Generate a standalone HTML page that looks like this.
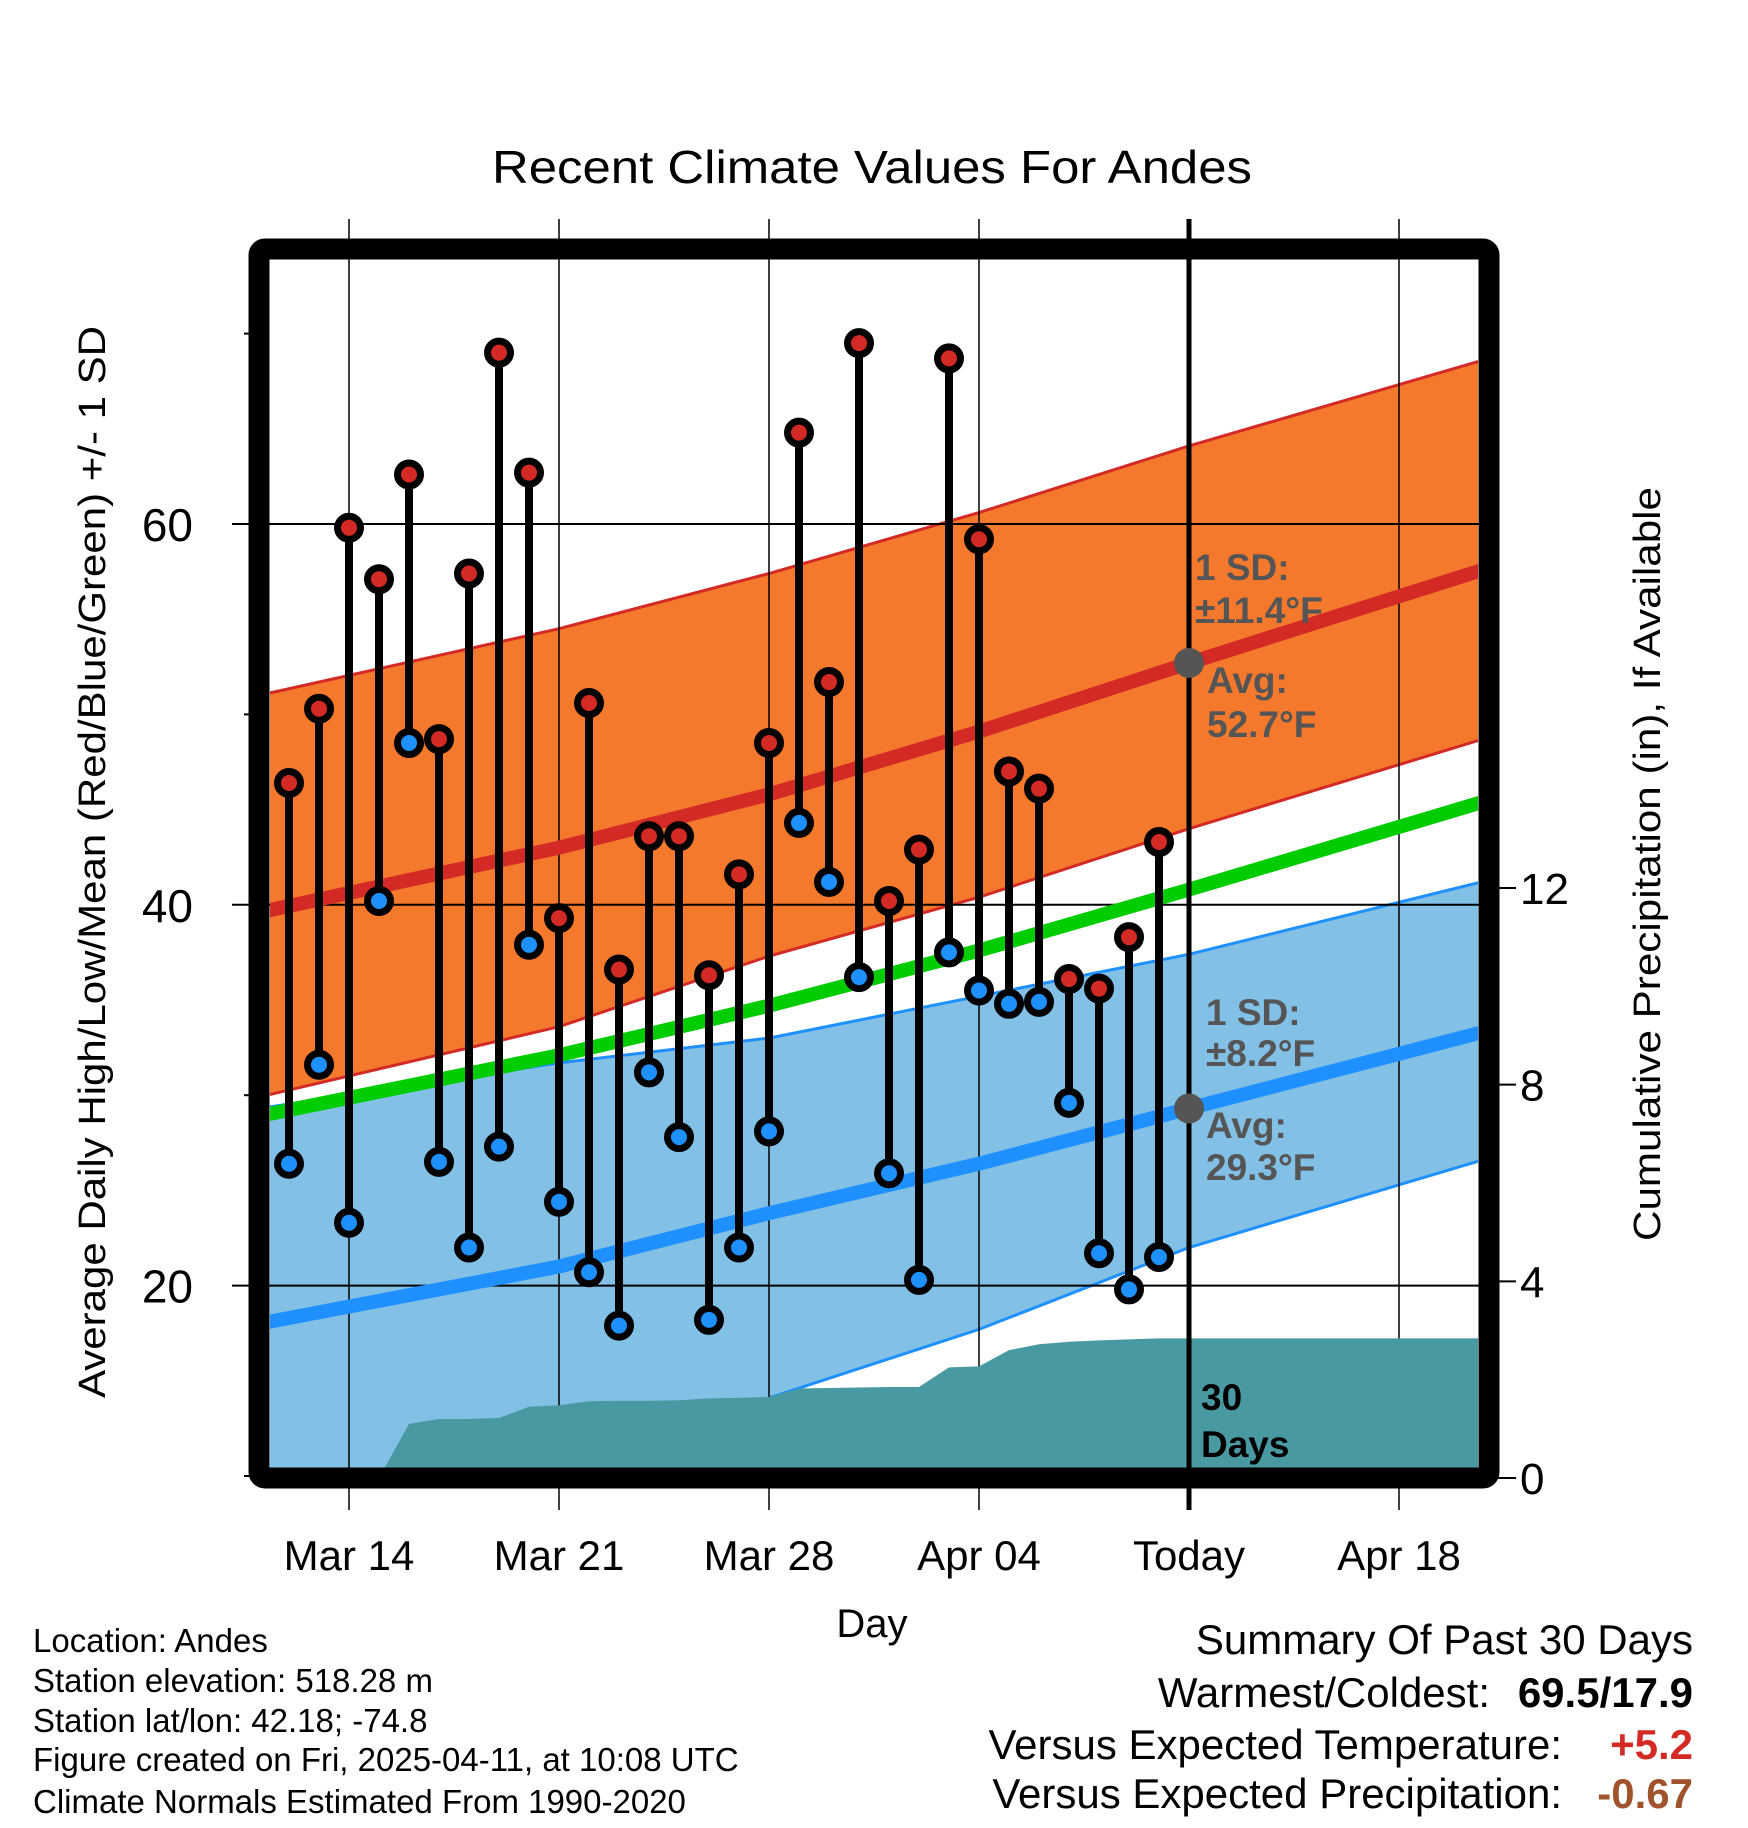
<!DOCTYPE html>
<html><head><meta charset="utf-8"><style>
html,body{margin:0;padding:0;background:#fff;}
svg{display:block;font-family:"Liberation Sans",sans-serif;}
</style></head><body>
<svg id="chart" width="1748" height="1828" viewBox="0 0 1748 1828" xmlns="http://www.w3.org/2000/svg">
<defs><clipPath id="plotclip"><rect x="270" y="259" width="1208" height="1209"/></clipPath></defs>
<rect width="1748" height="1828" fill="#fff"/>
<text x="872" y="183" font-size="46" text-anchor="middle" textLength="760" lengthAdjust="spacingAndGlyphs">Recent Climate Values For Andes</text>
<g id="bands" clip-path="url(#plotclip)"></g>
<g id="grid"></g>
<g id="precip" clip-path="url(#plotclip)"></g>
<g id="normals" clip-path="url(#plotclip)"></g>
<g id="obs" clip-path="url(#plotclip)"></g>
<g id="annot"></g>
<rect x="259" y="249" width="1230" height="1229" rx="6" fill="none" stroke="#000" stroke-width="21"/>
<g id="axes"></g>
<text transform="translate(105,862) rotate(-90)" font-size="38" text-anchor="middle" textLength="1072" lengthAdjust="spacingAndGlyphs">Average Daily High/Low/Mean (Red/Blue/Green) +/- 1 SD</text>
<text transform="translate(1660,864) rotate(-90)" font-size="38" text-anchor="middle" textLength="754" lengthAdjust="spacingAndGlyphs">Cumulative Precipitation (in), If Available</text>
<text x="872" y="1637" font-size="40" text-anchor="middle">Day</text>
<g font-size="33">
<text x="33" y="1652">Location: Andes</text>
<text x="33" y="1692">Station elevation: 518.28 m</text>
<text x="33" y="1732">Station lat/lon: 42.18; -74.8</text>
<text x="33" y="1771">Figure created on Fri, 2025-04-11, at 10:08 UTC</text>
<text x="33" y="1813">Climate Normals Estimated From 1990-2020</text>
</g>
<g font-size="42" text-anchor="end">
<text x="1693" y="1654">Summary Of Past 30 Days</text>
<text x="1490" y="1707">Warmest/Coldest:</text>
<text x="1693" y="1707" font-weight="bold">69.5/17.9</text>
<text x="1562" y="1759">Versus Expected Temperature:</text>
<text x="1693" y="1759" font-weight="bold" fill="#d42a25">+5.2</text>
<text x="1562" y="1808">Versus Expected Precipitation:</text>
<text x="1693" y="1808" font-weight="bold" fill="#a0522d">-0.67</text>
</g>
</svg>
<script>
// ---- data ----
const highs = [46.4,50.3,59.8,57.1,62.6,48.7,57.4,69.0,62.7,39.3,50.6,36.6,43.6,43.6,36.3,41.6,48.5,64.8,51.7,69.5,40.2,42.9,68.7,59.2,47.0,46.1,36.1,35.6,38.3,43.3];
const lows  = [26.4,31.6,23.3,40.2,48.5,26.5,22.0,27.3,37.9,24.4,20.7,17.9,31.2,27.8,18.2,22.0,28.1,44.3,41.2,36.2,25.9,20.3,37.5,35.5,34.8,34.9,29.6,21.7,19.8,21.5];
const normDays   = [0,10,17,24,31,41];
const avgHigh    = [39.6,43.0,45.8,49.1,52.7,57.7];
const highBandTop= [51.0,54.5,57.4,60.6,64.1,68.7];
const highBandBot= [29.9,33.6,37.3,40.4,44.0,48.8];
const avgMean    = [28.9,32.1,34.7,37.6,40.8,45.5];
const avgLow     = [18.0,21.0,23.8,26.4,29.3,33.4];
const lowBandTop = [29.3,31.7,33.0,35.2,37.4,41.3];
const lowBandBot = [8.5,10.2,14.1,17.7,22.0,26.7];
const precipCum  = [0,0,0,0,0,1.1,1.2,1.2,1.22,1.45,1.48,1.56,1.57,1.57,1.58,1.62,1.63,1.65,1.82,1.83,1.84,1.85,1.85,2.25,2.27,2.6,2.72,2.77,2.8,2.82,2.84,2.84,2.84,2.84,2.84,2.84,2.84,2.84,2.84,2.84,2.84,2.84];
const xTickDays   = [3,10,17,24,31,38];
const xTickLabels = ["Mar 14","Mar 21","Mar 28","Apr 04","Today","Apr 18"];
const yTicks  = [20,40,60];
const yMinor  = [10,30,50,70];
const y2Ticks = [0,4,8,12];
// ---- scales ----
const NS="http://www.w3.org/2000/svg";
const X = d => 259 + d*30;
const Y = t => 524 + (60-t)*19.04;
const Y2 = p => 1478 - p*49.17;
function mk(tag, attrs, parent){const e=document.createElementNS(NS,tag);for(const k in attrs)e.setAttribute(k,attrs[k]);parent.appendChild(e);return e;}
const bands=document.getElementById('bands'),grid=document.getElementById('grid'),precip=document.getElementById('precip'),
norm=document.getElementById('normals'),obs=document.getElementById('obs'),annot=document.getElementById('annot'),axes=document.getElementById('axes');
function pts(arr){return normDays.map((d,i)=>X(d)+','+Y(arr[i])).join(' ');}
function band(top,bot,fill,name){
  const p=normDays.map((d,i)=>X(d)+','+Y(top[i])).concat(normDays.slice().reverse().map((d,j)=>{const i=normDays.length-1-j;return X(d)+','+Y(bot[i]);}));
  const e=mk('polygon',{points:p.join(' '),fill:fill},bands);
  
  
}
band(lowBandTop,lowBandBot,'#82c0e6','low-sd-band');
band(highBandTop,highBandBot,'#f4792d','high-sd-band');
[[lowBandTop,'#1e90ff'],[lowBandBot,'#1e90ff'],[highBandTop,'#d42a25'],[highBandBot,'#d42a25']].forEach(([a,c])=>{
  const e=mk('polyline',{points:pts(a),fill:'none',stroke:c,'stroke-width':3},bands);
  
  
});
// grid
yTicks.forEach(t=>{
  const e=mk('line',{x1:232,x2:1489,y1:Y(t),y2:Y(t),stroke:'#000','stroke-width':2},grid);
  
  
  const l=mk('text',{x:193,y:Y(t)+17,'font-size':46,'text-anchor':'end'},axes);l.textContent=t;
  
  
});
yMinor.forEach(t=>{
  const e=mk('line',{x1:244,x2:260,y1:Y(t),y2:Y(t),stroke:'#000','stroke-width':2},grid);
  
  
});
xTickDays.forEach((d,i)=>{
  if(i!==4){const e=mk('line',{x1:X(d),x2:X(d),y1:219,y2:1510,stroke:'#000','stroke-width':1.5},grid);
  
  }
  const l=mk('text',{x:X(d),y:1570,'font-size':42,'text-anchor':'middle'},axes);l.textContent=xTickLabels[i];
  
  
});
y2Ticks.forEach(p=>{
  const e=mk('line',{x1:1489,x2:1516,y1:Y2(p),y2:Y2(p),stroke:'#000','stroke-width':2},axes);
  
  
  const l=mk('text',{x:1520,y:Y2(p)+16,'font-size':44},axes);l.textContent=p;
  
  
});
// precip
{
  const p=precipCum.map((v,d)=>X(d)+','+Y2(v));p.push(X(precipCum.length-1)+','+1480,X(0)+','+1480);
  const e=mk('polygon',{points:p.join(' '),fill:'#4899a2'},precip);
  
  
}
// normal lines
[[avgMean,'#00cc00','mean-line'],[avgLow,'#1e90ff','avg-low-line'],[avgHigh,'#d42a25','avg-high-line']].forEach(([a,c,n])=>{
  const e=mk('polyline',{points:pts(a),fill:'none',stroke:c,'stroke-width':14},norm);
  
  
});
// today line
{
  const e=mk('line',{x1:X(31),x2:X(31),y1:219,y2:1510,stroke:'#000','stroke-width':5},annot);
  
  
}
// observations
highs.forEach((h,i)=>{
  const x=X(i+1);
  const s=mk('line',{x1:x,x2:x,y1:Y(h),y2:Y(lows[i]),stroke:'#000','stroke-width':8},obs);
  
  
});
highs.forEach((h,i)=>{
  const x=X(i+1);
  const a=mk('circle',{cx:x,cy:Y(h),r:11.5,fill:'#d42a25',stroke:'#000','stroke-width':7},obs);
  
  
  const b=mk('circle',{cx:x,cy:Y(lows[i]),r:11.5,fill:'#1e90ff',stroke:'#000','stroke-width':7},obs);
  
  
});
// annotations
[[avgHigh[4],'avg-high-marker'],[avgLow[4],'avg-low-marker']].forEach(([v,n])=>{
  const c=mk('circle',{cx:X(31),cy:Y(v),r:15,fill:'#555'},annot);
  
  
});
[[1195,580,'1 SD:'],[1195,623,'±11.4°F'],[1207,693,'Avg:'],[1207,737,'52.7°F'],
 [1206,1025,'1 SD:'],[1206,1066,'±8.2°F'],[1206,1138,'Avg:'],[1206,1180,'29.3°F']].forEach(([x,y,t])=>{
  const e=mk('text',{x:x,y:y,'font-size':37,'font-weight':'bold',fill:'#555'},annot);e.textContent=t;
  
  
});
[[1201,1410,'30'],[1201,1457,'Days']].forEach(([x,y,t])=>{
  const e=mk('text',{x:x,y:y,'font-size':37,'font-weight':'bold',fill:'#000'},annot);e.textContent=t;
  
  
});
</script>
</body></html>
